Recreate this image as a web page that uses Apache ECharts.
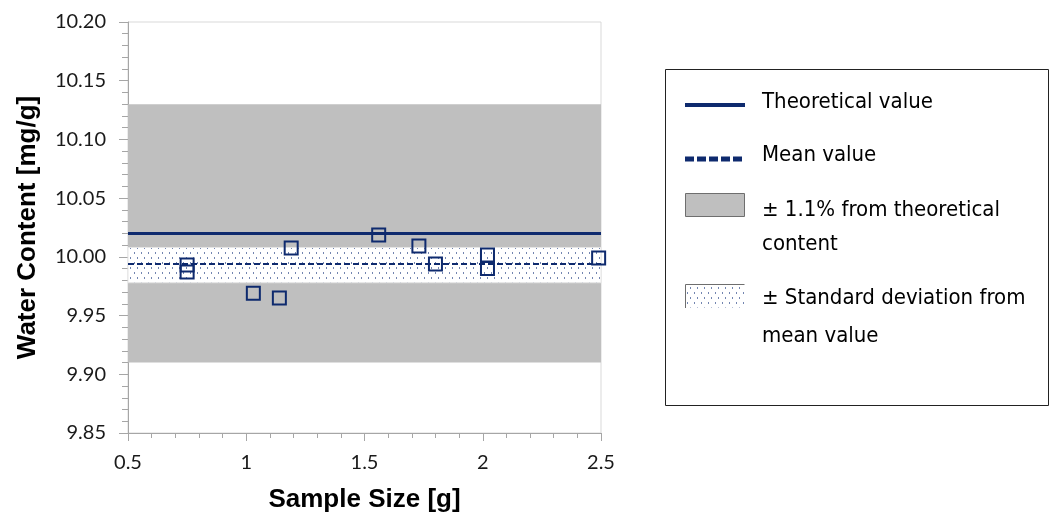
<!DOCTYPE html>
<html>
<head>
<meta charset="utf-8">
<script src="https://cdn.jsdelivr.net/npm/echarts@6/dist/echarts.min.js"></script>
<style>
  html, body { margin: 0; padding: 0; background: #fff; }
  #chart { width: 1050px; height: 512px; }
</style>
</head>
<body>
<div id="chart"></div>
<script>
// Measured sample sizes (g) and water content results (mg/g)
const sampleSize = [0.75, 0.75, 1.03, 1.14, 1.19, 1.56, 1.73, 1.80, 2.02, 2.02, 2.49];
const waterContent = [9.993, 9.987, 9.969, 9.965, 10.0075, 10.0186, 10.0092, 9.994, 10.0015, 9.990, 9.999];

// Reference levels
const theoreticalValue = 10.02;
const meanValue = 9.994;
const toleranceBand = [9.91, 10.13];      // ± 1.1% around theoretical content
const stdDevBand = [9.978, 10.008];       // ± one standard deviation around the mean

// Axis ranges and tick labels
const xTicks = [0.5, 1, 1.5, 2, 2.5];
const yTicks = ['9.85', '9.90', '9.95', '10.00', '10.05', '10.10', '10.15', '10.20'];

const NAVY = '#0E2A6E';
const BAND_GREY = '#BFBFBF';
const LABEL_FONT = "Lato, 'Open Sans', sans-serif";
const LEGEND_FONT = "'Liberation Sans Narrow', 'DejaVu Sans Condensed', sans-serif";

// Dotted fill used for the standard deviation band
function dotPattern() {
  const c = document.createElement('canvas');
  c.width = 7; c.height = 10;
  const g = c.getContext('2d');
  g.fillStyle = '#ffffff';
  g.fillRect(0, 0, 7, 10);
  g.fillStyle = '#7385B0';
  g.fillRect(1, 2, 1, 2);
  g.fillRect(4, 7, 1, 2);
  return c;
}
const dots = dotPattern();

const points = sampleSize.map((x, i) => [x, waterContent[i]]);

const chart = echarts.init(document.getElementById('chart'), null, { renderer: 'canvas' });

// Legend drawn as graphic elements so the wrapped entries sit like the original layout
const legendX = 665, legendY = 69;
const swatchX = 685, textX = 762;
const legendFont = "22px " + LEGEND_FONT;
const legendText = (y, text) => ({
  type: 'text', x: textX, y: y,
  style: { text: text, font: legendFont, fill: '#000', verticalAlign: 'middle' }
});

const legendGraphics = [
  { type: 'rect', shape: { x: legendX + 0.5, y: legendY + 0.5, width: 383, height: 336 },
    style: { fill: '#fff', stroke: '#222', lineWidth: 1 } },
  // Theoretical value
  { type: 'rect', shape: { x: swatchX, y: 103, width: 60, height: 4 }, style: { fill: NAVY } },
  legendText(102, 'Theoretical value'),
  // Mean value
  { type: 'line', shape: { x1: swatchX, y1: 159, x2: swatchX + 60, y2: 159 },
    style: { stroke: NAVY, lineWidth: 5, lineDash: [9, 3] } },
  legendText(155, 'Mean value'),
  // ± 1.1 % band
  { type: 'rect', shape: { x: swatchX + 0.5, y: 193.5, width: 59, height: 23 },
    style: { fill: BAND_GREY, stroke: '#6E6E6E', lineWidth: 1 } },
  legendText(210, '± 1.1% from theoretical'),
  legendText(244, 'content'),
  // ± standard deviation band
  { type: 'rect', shape: { x: swatchX + 0.5, y: 284.5, width: 59, height: 23 },
    style: { fill: { image: dots, repeat: 'repeat' }, stroke: null } },
  { type: 'polyline', shape: { points: [[swatchX + 0.5, 308], [swatchX + 0.5, 284.5], [swatchX + 59.5, 284.5]] },
    style: { stroke: '#6E6E6E', lineWidth: 1, fill: null } },
  legendText(298, '± Standard deviation from'),
  legendText(336, 'mean value')
];

const option = {
  animation: false,
  backgroundColor: '#fff',
  grid: {
    left: 128, right: 449, top: 22, bottom: 79,
    outerBoundsMode: 'none', containLabel: false,
    show: true, borderColor: '#D9D9D9', borderWidth: 1, backgroundColor: 'transparent'
  },
  xAxis: {
    type: 'value',
    min: xTicks[0], max: xTicks[xTicks.length - 1], interval: 0.5,
    name: 'Sample Size [g]', nameLocation: 'middle', nameGap: 54,
    nameTextStyle: { fontFamily: "'Liberation Sans', Arial, sans-serif", fontWeight: 'bold', fontSize: 26, color: '#000' },
    axisLine: { show: true, onZero: false, lineStyle: { color: '#A6A6A6', width: 1 } },
    axisTick: { show: true, inside: false, length: 8, lineStyle: { color: '#A6A6A6' } },
    minorTick: { show: true, splitNumber: 5, length: 5, lineStyle: { color: '#A6A6A6' } },
    splitLine: { show: false },
    axisLabel: { margin: 20, fontFamily: LABEL_FONT, fontSize: 20, color: '#1a1a1a',
      formatter: v => String(xTicks.find(t => Math.abs(t - v) < 1e-9) ?? v) }
  },
  yAxis: {
    type: 'value',
    min: 9.85, max: 10.20, interval: 0.05,
    name: 'Water Content [mg/g]', nameLocation: 'middle', nameGap: 87,
    nameTextStyle: { fontFamily: "'Liberation Sans', Arial, sans-serif", fontWeight: 'bold', fontSize: 26, color: '#000' },
    axisLine: { show: true, onZero: false, lineStyle: { color: '#A6A6A6', width: 1 } },
    axisTick: { show: true, inside: false, length: 9, lineStyle: { color: '#A6A6A6' } },
    minorTick: { show: true, splitNumber: 5, length: 6, lineStyle: { color: '#A6A6A6' } },
    splitLine: { show: false },
    axisLabel: { margin: 22, fontFamily: LABEL_FONT, fontSize: 20, color: '#1a1a1a',
      formatter: v => yTicks.find(t => Math.abs(parseFloat(t) - v) < 1e-6) || v.toFixed(2) }
  },
  graphic: legendGraphics,
  series: [
    {
      name: '± 1.1% from theoretical content',
      type: 'scatter', data: [], z: 1, silent: true,
      markArea: {
        silent: true, precision: 4,
        itemStyle: { color: BAND_GREY, borderWidth: 0 },
        data: [[{ yAxis: toleranceBand[0] }, { yAxis: toleranceBand[1] }]]
      }
    },
    {
      name: '± Standard deviation from mean value',
      type: 'scatter', data: [], z: 2, silent: true,
      markArea: {
        silent: true, precision: 4,
        itemStyle: { color: { image: dots, repeat: 'repeat' }, borderColor: '#E6E6E6', borderWidth: 1 },
        data: [[{ yAxis: stdDevBand[0] }, { yAxis: stdDevBand[1] }]]
      }
    },
    {
      name: 'Theoretical value',
      type: 'scatter', data: [], z: 3, silent: true,
      markLine: {
        silent: true, precision: 4, symbol: ['none', 'none'], label: { show: false },
        lineStyle: { color: NAVY, width: 3, type: 'solid' },
        data: [{ yAxis: theoreticalValue }]
      }
    },
    {
      name: 'Mean value',
      type: 'scatter', data: [], z: 3, silent: true,
      markLine: {
        silent: true, precision: 4, symbol: ['none', 'none'], label: { show: false },
        lineStyle: { color: NAVY, width: 2, type: [6, 3] },
        data: [{ yAxis: meanValue }]
      }
    },
    {
      name: 'Water content',
      type: 'scatter', z: 5,
      data: points,
      symbol: 'rect', symbolSize: 13,
      itemStyle: { color: 'rgba(0,0,0,0)', borderColor: NAVY, borderWidth: 2, opacity: 1 }
    }
  ]
};

chart.setOption(option);
</script>
</body>
</html>
